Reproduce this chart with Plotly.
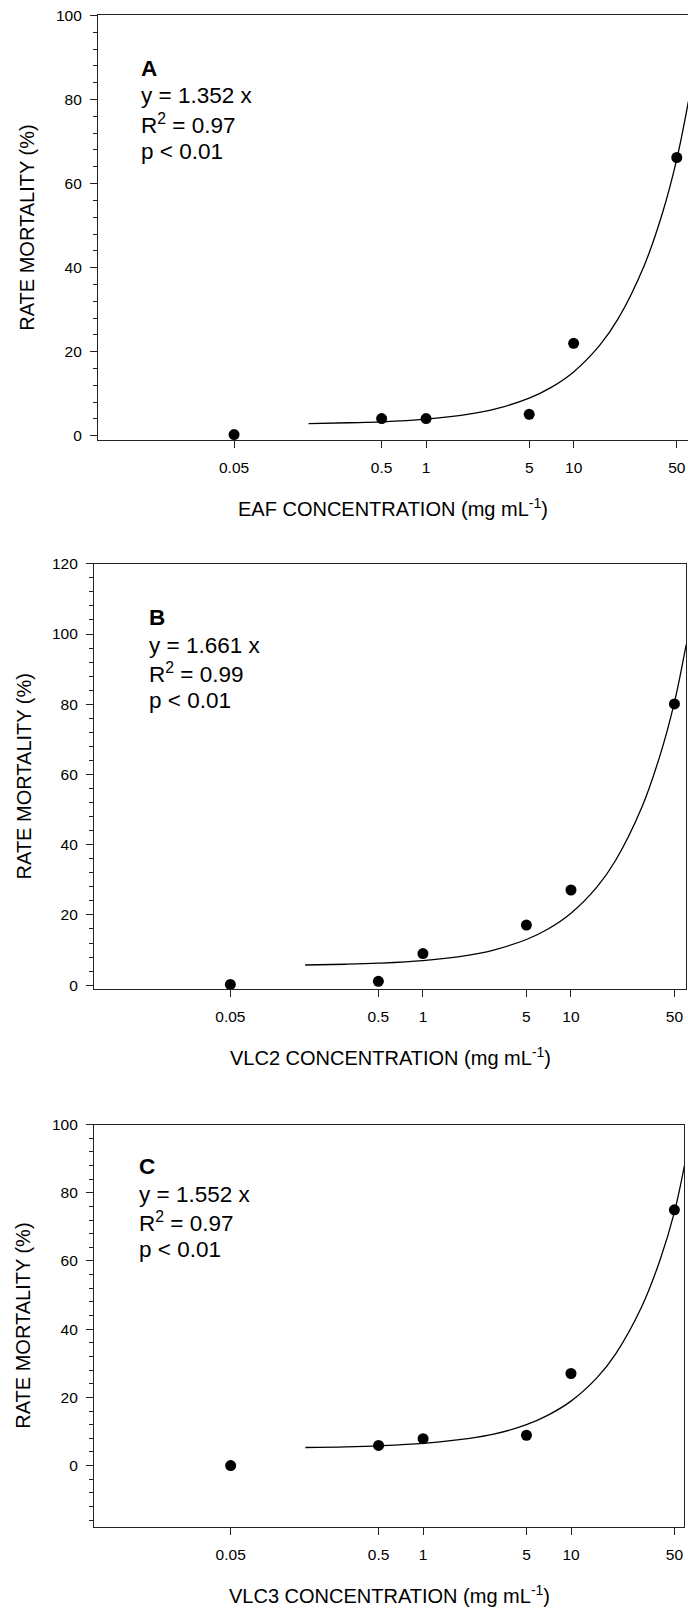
import plotly.graph_objects as go

W, H = 688, 1610

# ---------------- data ----------------
conc = [0.05, 0.5, 1, 5, 10, 50]
tick_vals = [0.05, 0.5, 1, 5, 10, 50]
tick_text = ["0.05", "0.5", "1", "5", "10", "50"]

eaf_mort = [0.3, 4.1, 4.1, 5.1, 22.0, 66.2]
vlc2_mort = [0.2, 1.1, 9.0, 17.1, 27.1, 80.1]
vlc3_mort = [0.0, 5.9, 7.9, 8.9, 27.0, 75.0]

# fitted curves
fit_conc = [0.16, 0.3, 0.5, 1, 2, 3, 5, 7, 10, 15, 20, 30, 40, 50, 60]
eaf_fit = [2.9, 3.1, 3.3, 3.95, 5.2, 6.45, 8.95, 11.45, 15.2, 21.5, 27.8, 40.4, 53.0, 65.8, 79.6]
vlc2_fit = [5.74, 5.95, 6.25, 7.0, 8.5, 10.0, 13.0, 16.0, 20.5, 28.0, 35.5, 50.5, 65.5, 80.6, 97.0]
vlc3_fit = [5.3, 5.5, 5.8, 6.5, 7.9, 9.2, 12.0, 14.8, 18.9, 25.8, 32.7, 46.5, 60.3, 74.3, 90.5]

panel_letters = ["A", "B", "C"]
equations = ["y = 1.352 x", "y = 1.661 x", "y = 1.552 x"]
r2_values = ["0.97", "0.99", "0.97"]
p_texts = ["p &lt; 0.01", "p &lt; 0.01", "p &lt; 0.01"]
x_titles = ["EAF CONCENTRATION (mg mL<sup>-1</sup>)",
            "VLC2 CONCENTRATION (mg mL<sup>-1</sup>)",
            "VLC3 CONCENTRATION (mg mL<sup>-1</sup>)"]
y_title = "RATE MORTALITY (%)"

# ---------------- layout geometry (pixels) ----------------
panels = [
    dict(x0=98, x1=688, y0=15.4, y1=440, xr=[-2.223, 1.775], yr=[-1, 100], ytitle_x=27, lab_x=139, lab_dy=53),
    dict(x0=94, x1=686, y0=563.8, y1=989, xr=[-2.222, 1.777], yr=[-1.1, 120], ytitle_x=24, lab_x=147, lab_dy=54),
    dict(x0=94, x1=684.3, y0=1124.5, y1=1527, xr=[-2.225, 1.766], yr=[-18, 100], ytitle_x=23, lab_x=137, lab_dy=42),
]

FONT = "Liberation Sans, Arial, sans-serif"
LINE_COL = "#222222"

def px2x(px):
    return px / W

def py2y(py):
    return 1 - py / H

fig = go.Figure()
series = [(eaf_mort, eaf_fit), (vlc2_mort, vlc2_fit), (vlc3_mort, vlc3_fit)]

annotations = []
for i, (p, (mort, fit)) in enumerate(zip(panels, series)):
    n = "" if i == 0 else str(i + 1)
    xa, ya = "x" + n, "y" + n
    fig.add_trace(go.Scatter(x=fit_conc, y=fit, mode="lines", line=dict(color="black", width=1.3, shape="spline"),
                             xaxis=xa, yaxis=ya, showlegend=False, hoverinfo="skip"))
    fig.add_trace(go.Scatter(x=conc, y=mort, mode="markers", marker=dict(color="black", size=11),
                             xaxis=xa, yaxis=ya, showlegend=False, cliponaxis=False))
    fig.layout["xaxis" + n] = dict(
        type="log", range=p["xr"], domain=[px2x(p["x0"]), px2x(p["x1"])], anchor=ya,
        tickvals=tick_vals, ticktext=tick_text, ticks="outside", ticklen=7, tickwidth=1, tickcolor=LINE_COL,
        showline=True, linecolor=LINE_COL, linewidth=1.2, mirror=True, showgrid=False, zeroline=False,
        tickfont=dict(family=FONT, size=15.5, color="black"), ticklabelstandoff=6, automargin=False,
    )
    fig.layout["yaxis" + n] = dict(
        range=p["yr"], domain=[py2y(p["y1"]), py2y(p["y0"])], anchor=xa,
        tick0=0, dtick=20, ticks="outside", ticklen=7, tickwidth=1, tickcolor=LINE_COL,
        minor=dict(tick0=0, dtick=4, ticks="outside", ticklen=4, tickwidth=1, tickcolor=LINE_COL),
        showline=True, linecolor=LINE_COL, linewidth=1.2, mirror=True, showgrid=False, zeroline=False,
        tickfont=dict(family=FONT, size=15.5, color="black"), ticklabelstandoff=5, automargin=False,
    )
    # axis titles
    annotations.append(dict(text=x_titles[i], xref="paper", yref="paper",
                            x=px2x((p["x0"] + p["x1"]) / 2), y=py2y(p["y1"] + 67.5),
                            xanchor="center", yanchor="middle", showarrow=False,
                            font=dict(family=FONT, size=20, color="black")))
    annotations.append(dict(text=y_title, xref="paper", yref="paper", textangle=-90,
                            x=px2x(p["ytitle_x"]), y=py2y((p["y0"] + p["y1"]) / 2),
                            xanchor="center", yanchor="middle", showarrow=False,
                            font=dict(family=FONT, size=20, color="black")))
    # panel text block
    lines = ["<b>" + panel_letters[i] + "</b>", equations[i], "R<sup>2</sup> = " + r2_values[i], p_texts[i]]
    for k, t in enumerate(lines):
        annotations.append(dict(text=t, xref="paper", yref="paper",
                                x=px2x(p["lab_x"]), y=py2y(p["y0"] + p["lab_dy"] + 27.6 * k),
                                xanchor="left", yanchor="middle", showarrow=False,
                                font=dict(family=FONT, size=22.5, color="black")))

fig.update_layout(
    width=W, height=H, margin=dict(l=0, r=0, t=0, b=0, autoexpand=False),
    paper_bgcolor="white", plot_bgcolor="white", annotations=annotations,
    showlegend=False,
)

page_fix = (
    "document.body.style.margin='0';"
    "document.body.style.padding='0';"
    "document.body.style.overflow='hidden';"
    "document.documentElement.style.overflow='hidden';"
)

fig.write_html("out.html", post_script=page_fix, config={"displayModeBar": False})
